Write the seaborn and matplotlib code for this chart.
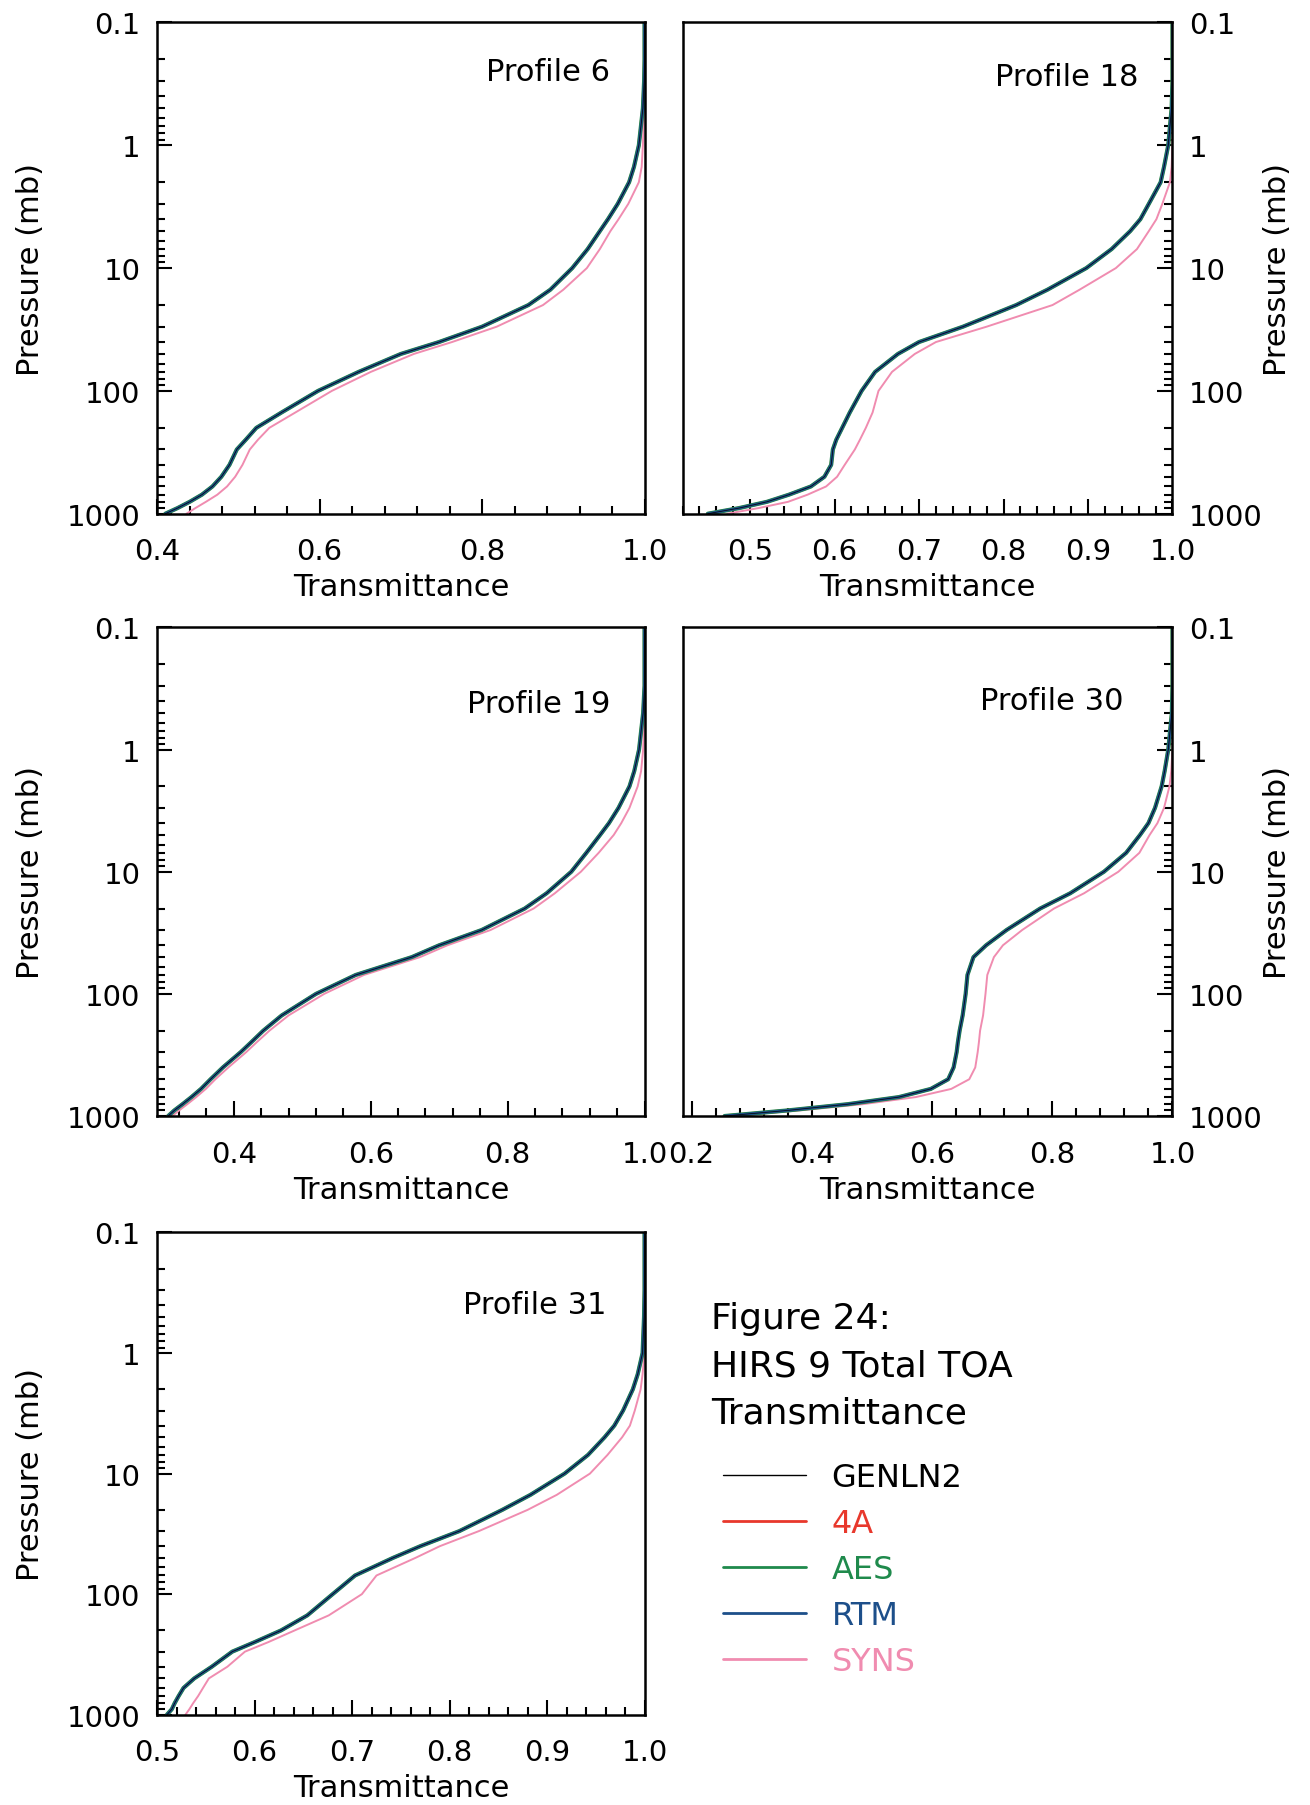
import numpy as np
import pandas as pd
import seaborn as sns
import matplotlib.pyplot as plt
from matplotlib.lines import Line2D
from matplotlib.ticker import MultipleLocator, FixedLocator, LogLocator, NullFormatter

# pressure levels (mb) shared by every profile
pressure = [0.1, 0.2, 0.3, 0.5, 1, 1.5, 2, 3, 4, 5, 7, 10, 15, 20, 30, 40, 50, 70, 100,
            150, 200, 250, 300, 400, 500, 600, 700, 800, 900, 1000]

# transmittance: the line-by-line / fast models overlap, SYNS sits to the right
p6_main = [1.0, 1.0, 0.9995, 0.998, 0.993, 0.987, 0.981, 0.967, 0.955, 0.945, 0.93, 0.911, 0.884,
           0.857, 0.800, 0.747, 0.700, 0.648, 0.598, 0.553, 0.522, 0.509, 0.498, 0.489, 0.479,
           0.468, 0.455, 0.440, 0.425, 0.41]
p6_syns = [1.0, 1.0, 1.0, 0.9995, 0.998, 0.9965, 0.993, 0.98, 0.968, 0.958, 0.945, 0.929, 0.900,
           0.875, 0.818, 0.763, 0.716, 0.663, 0.615, 0.570, 0.538, 0.524, 0.514, 0.505, 0.496,
           0.486, 0.474, 0.46, 0.447, 0.436]

p18_main = [1.0, 1.0, 1.0, 0.999, 0.995, 0.990, 0.986, 0.972, 0.962, 0.950, 0.928, 0.898, 0.852,
            0.815, 0.752, 0.70, 0.675, 0.648, 0.632, 0.618, 0.609, 0.602, 0.598, 0.596, 0.588,
            0.572, 0.546, 0.52, 0.487, 0.45]
p18_syns = [1.0, 1.0, 1.0, 1.0, 1.0, 0.999, 0.997, 0.988, 0.981, 0.972, 0.958, 0.933, 0.89,
            0.858, 0.78, 0.72, 0.695, 0.668, 0.652, 0.645, 0.637, 0.630, 0.624, 0.612, 0.603,
            0.59, 0.568, 0.545, 0.51, 0.473]

p19_main = [1.0, 1.0, 1.0, 0.998, 0.992, 0.985, 0.978, 0.962, 0.948, 0.935, 0.915, 0.893, 0.857,
            0.825, 0.762, 0.70, 0.660, 0.578, 0.52, 0.47, 0.443, 0.425, 0.410, 0.384, 0.366,
            0.352, 0.338, 0.325, 0.313, 0.304]
p19_syns = [1.0, 1.0, 1.0, 1.0, 0.998, 0.995, 0.99, 0.978, 0.966, 0.955, 0.933, 0.907, 0.869,
            0.838, 0.775, 0.712, 0.672, 0.59, 0.532, 0.48, 0.452, 0.433, 0.418, 0.392, 0.373,
            0.359, 0.345, 0.332, 0.32, 0.31]

p30_main = [1.0, 1.0, 1.0, 0.999, 0.993, 0.987, 0.982, 0.971, 0.96, 0.946, 0.923, 0.886, 0.83,
            0.78, 0.724, 0.69, 0.669, 0.659, 0.656, 0.651, 0.646, 0.643, 0.641, 0.636, 0.627,
            0.598, 0.545, 0.46, 0.36, 0.255]
p30_syns = [1.0, 1.0, 1.0, 1.0, 1.0, 0.998, 0.995, 0.986, 0.975, 0.962, 0.945, 0.91, 0.853,
            0.803, 0.75, 0.718, 0.703, 0.692, 0.689, 0.685, 0.68, 0.678, 0.676, 0.672, 0.662,
            0.632, 0.573, 0.485, 0.38, 0.27]

p31_main = [1.0, 1.0, 1.0, 0.9995, 0.998, 0.993, 0.988, 0.978, 0.969, 0.959, 0.942, 0.918, 0.883,
            0.854, 0.810, 0.770, 0.742, 0.703, 0.680, 0.654, 0.627, 0.60, 0.577, 0.556, 0.538,
            0.527, 0.522, 0.518, 0.515, 0.51]
p31_syns = [1.0, 1.0, 1.0, 1.0, 1.0, 0.998, 0.996, 0.99, 0.985, 0.977, 0.962, 0.944, 0.91,
            0.88, 0.83, 0.790, 0.765, 0.725, 0.71, 0.676, 0.641, 0.614, 0.59, 0.572, 0.553,
            0.547, 0.542, 0.537, 0.533, 0.529]

profiles = ["Profile 6", "Profile 18", "Profile 19", "Profile 30", "Profile 31"]
mains = [p6_main, p18_main, p19_main, p30_main, p31_main]
synss = [p6_syns, p18_syns, p19_syns, p30_syns, p31_syns]
xlims = [(0.4, 1.0), (0.42, 1.0), (0.288, 1.0), (0.185, 1.0), (0.5, 1.0)]
xmajor = [0.2, 0.1, 0.2, 0.2, 0.1]
xminor = [0.04, 0.02, 0.04, 0.04, 0.02]

models = ["GENLN2", "4A", "AES", "RTM", "SYNS"]
colors = {"GENLN2": "black", "4A": "#e8382c", "AES": "#1f8a4c", "RTM": "#1d4f8a", "SYNS": "#f08cb0"}
widths = {"GENLN2": 0.5, "4A": 2.4, "AES": 3.0, "RTM": 2.0, "SYNS": 1.4}

sns.set_theme(style="ticks")
plt.rcParams["font.family"] = ["DejaVu Sans"]
plt.rcParams["text.color"] = "black"
plt.rcParams["axes.labelcolor"] = "black"

fig = plt.figure(figsize=(13.1, 18.06), dpi=100)
boxes = [
    (0.120, 0.715, 0.372, 0.272),
    (0.521, 0.715, 0.374, 0.272),
    (0.120, 0.3815, 0.372, 0.2705),
    (0.521, 0.3815, 0.374, 0.2705),
    (0.120, 0.050, 0.372, 0.267),
]
label_pos = [(0.93, 0.90), (0.93, 0.89), (0.93, 0.845), (0.90, 0.85), (0.922, 0.85)]

for i, box in enumerate(boxes):
    ax = fig.add_axes(box)
    right_side = i in (1, 3)
    frames = []
    for m in models:
        vals = synss[i] if m == "SYNS" else mains[i]
        frames.append(pd.DataFrame({"p": pressure, "T": vals, "model": m}))
    df = pd.concat(frames, ignore_index=True)
    for m in ["SYNS", "4A", "AES", "RTM", "GENLN2"]:
        sns.lineplot(data=df[df["model"] == m], x="T", y="p", sort=False, estimator=None,
                     color=colors[m], linewidth=widths[m], ax=ax, legend=False)

    ax.set_yscale("log")
    ax.set_ylim(1000, 0.1)
    ax.set_xlim(*xlims[i])
    ax.yaxis.set_major_locator(FixedLocator([0.1, 1, 10, 100, 1000]))
    ax.set_yticklabels(["0.1", "1", "10", "100", "1000"])
    ax.yaxis.set_minor_locator(LogLocator(base=10, subs=range(2, 10)))
    ax.yaxis.set_minor_formatter(NullFormatter())
    ax.xaxis.set_major_locator(MultipleLocator(xmajor[i]))
    ax.xaxis.set_minor_locator(MultipleLocator(xminor[i]))
    ax.xaxis.set_major_formatter(lambda v, pos: f"{v:.1f}")

    ax.tick_params(axis="both", which="both", direction="in", colors="black",
                   labelsize=21, width=1.5)
    ax.tick_params(axis="both", which="major", length=11)
    ax.tick_params(axis="x", which="major", pad=17)
    ax.tick_params(axis="y", which="major", pad=12)
    ax.tick_params(axis="both", which="minor", length=6)
    ax.tick_params(axis="x", top=False, bottom=True)
    if right_side:
        ax.tick_params(axis="y", which="both", left=False, right=True,
                       labelleft=False, labelright=True)
        ax.yaxis.set_label_position("right")
    else:
        ax.tick_params(axis="y", which="both", left=True, right=False)

    for s in ax.spines.values():
        s.set_linewidth(1.8)
        s.set_color("black")

    ax.set_xlabel("Transmittance", fontsize=22, labelpad=5)
    ax.set_ylabel("Pressure (mb)", fontsize=22, labelpad=0 if right_side else 16)
    ax.text(label_pos[i][0], label_pos[i][1], profiles[i], transform=ax.transAxes,
            ha="right", va="center", fontsize=22)

# figure caption and legend in the empty slot
fig.text(0.543, 0.279, "Figure 24:\nHIRS 9 Total TOA\nTransmittance", ha="left", va="top",
         fontsize=26, linespacing=1.48)

handles = [Line2D([], [], color=colors[m], linewidth=1.0 if m == "GENLN2" else 2.0) for m in models]
fig.legend(handles, models, loc="upper left", bbox_to_anchor=(0.552, 0.190), frameon=False,
           fontsize=23, handlelength=2.6, handletextpad=0.8, labelspacing=0.47,
           borderpad=0, borderaxespad=0, labelcolor="linecolor")

fig.savefig("out.png", dpi=100, facecolor="white")
